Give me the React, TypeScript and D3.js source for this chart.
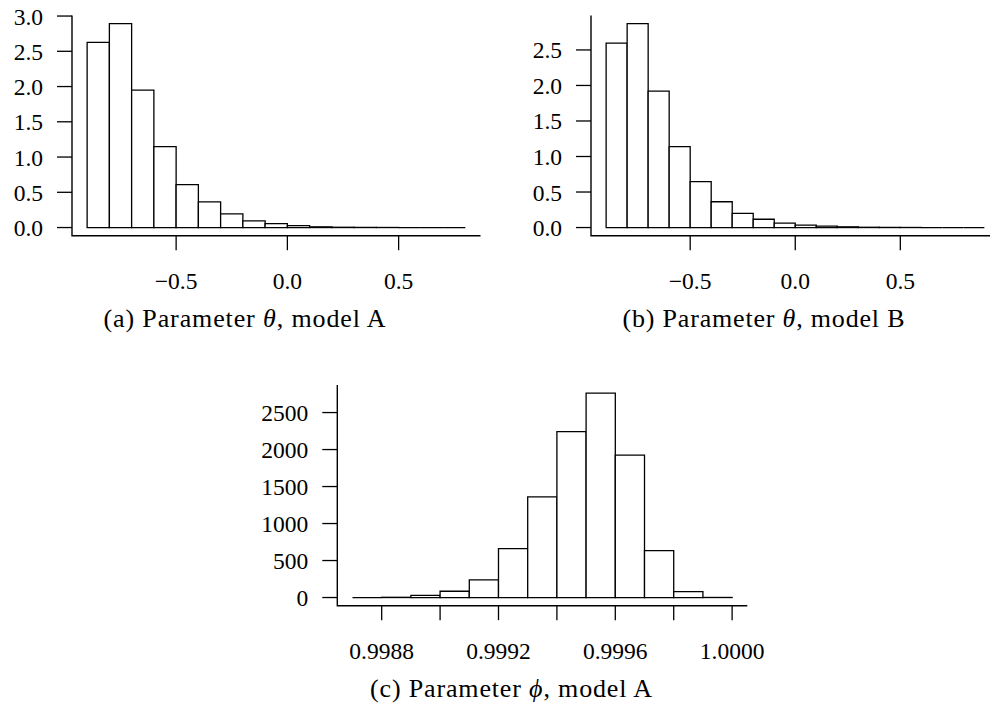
import React from "react";
import * as d3 from "d3";

// ---- Data ----
// Panel (a): Parameter theta, model A  (histogram densities, bin width 0.1)
const edgesA = [-0.9, -0.8, -0.7, -0.6, -0.5, -0.4, -0.3, -0.2, -0.1, 0.0, 0.1, 0.2, 0.3, 0.4, 0.5, 0.6, 0.7, 0.8];
const densityA = [2.627, 2.892, 1.949, 1.148, 0.61, 0.365, 0.195, 0.095, 0.057, 0.028, 0.01, 0.004, 0.002, 0.001, 0, 0, 0];

// Panel (b): Parameter theta, model B
const edgesB = [-0.9, -0.8, -0.7, -0.6, -0.5, -0.4, -0.3, -0.2, -0.1, 0.0, 0.1, 0.2, 0.3, 0.4, 0.5, 0.6, 0.7, 0.8, 0.9];
const densityB = [2.595, 2.87, 1.92, 1.14, 0.645, 0.363, 0.2, 0.117, 0.061, 0.033, 0.019, 0.01, 0.004, 0.002, 0.001, 0, 0, 0];

// Panel (c): Parameter phi, model A  (bin width 0.0001)
const edgesC = [0.9987, 0.9988, 0.9989, 0.999, 0.9991, 0.9992, 0.9993, 0.9994, 0.9995, 0.9996, 0.9997, 0.9998, 0.9999, 1.0];
const densityC = [0, 3, 30, 85, 238, 662, 1361, 2241, 2762, 1926, 635, 80, 1];

// Tick values
const yTicksA = [0, 0.5, 1.0, 1.5, 2.0, 2.5, 3.0];
const yTicksB = [0, 0.5, 1.0, 1.5, 2.0, 2.5];
const yTicksC = [0, 500, 1000, 1500, 2000, 2500];
const xTicksAB = [-0.5, 0.0, 0.5];
const xTicksC = [0.9988, 0.999, 0.9992, 0.9994, 0.9996, 0.9998, 1.0];
const xLabelsC = [0.9988, 0.9992, 0.9996, 1.0];

const FONT = "'Liberation Serif', 'Times New Roman', serif";

type HistProps = {
  edges: number[];
  dens: number[];
  xTicks: number[];
  xLabels: number[];
  yTicks: number[];
  xFmt: (v: number) => string;
  yFmt: (v: number) => string;
  left: number;
  top: number;
  width: number;
  height: number;
  captionX: number;
  letter: string;
  sym: string;
  model: string;
};

function Hist(p: HistProps) {
  const lo = p.edges[0];
  const hi = p.edges[p.edges.length - 1];
  const padX = 0.04 * (hi - lo);
  const M = d3.max(p.dens) as number;
  const x = d3.scaleLinear().domain([lo - padX, hi + padX]).range([p.left, p.left + p.width]);
  const y = d3.scaleLinear().domain([-0.04 * M, 1.04 * M]).range([p.top + p.height, p.top]);
  const bottom = p.top + p.height;
  const right = p.left + p.width;
  const sw = 1.3;
  return (
    <g>
      {p.dens.map((d, i) => {
        const x0 = x(p.edges[i]);
        const x1 = x(p.edges[i + 1]);
        const yt = y(d);
        const y0 = y(0);
        return (
          <path key={i} d={`M${x0},${y0}V${yt}H${x1}V${y0}Z`}
            fill="white" stroke="black" strokeWidth={sw} />
        );
      })}
      <path d={`M${p.left},${p.top}V${bottom}H${right}`} fill="none" stroke="black" strokeWidth={1.4} />
      {p.yTicks.map((t) => (
        <g key={"y" + t}>
          <line x1={p.left - 15} x2={p.left} y1={y(t)} y2={y(t)} stroke="black" strokeWidth={sw} />
          <text x={p.left - 29} y={y(t) + 8.5} textAnchor="end" fontSize={23.5} fontFamily={FONT}>
            {p.yFmt(t)}
          </text>
        </g>
      ))}
      {p.xTicks.map((t) => (
        <line key={"x" + t} x1={x(t)} x2={x(t)} y1={bottom} y2={bottom + 14.5} stroke="black" strokeWidth={sw} />
      ))}
      {p.xLabels.map((t) => (
        <text key={"xl" + t} x={x(t)} y={bottom + 53} textAnchor="middle" fontSize={23.5} fontFamily={FONT}>
          {p.xFmt(t)}
        </text>
      ))}
      <text x={p.captionX} y={bottom + 91} textAnchor="middle" fontSize={26} fontFamily={FONT}
        textLength={282} lengthAdjust="spacing">
        {`(${p.letter}) Parameter `}
        <tspan fontStyle="italic">{p.sym}</tspan>
        {`, model ${p.model}`}
      </text>
    </g>
  );
}

export default function App() {
  const f1 = d3.format(".1f");
  const f4 = d3.format(".4f");
  const fd = d3.format("d");
  return (
    <svg width={990} height={712} style={{ position: "absolute", left: 0, top: 0, background: "white" }}>
      <rect x={0} y={0} width={990} height={712} fill="white" />
      <Hist edges={edgesA} dens={densityA} xTicks={xTicksAB} xLabels={xTicksAB} yTicks={yTicksA}
        xFmt={f1} yFmt={f1} left={72} top={15.5} width={408.5} height={220.2}
        captionX={244.5} letter="a" sym="θ" model="A" />
      <Hist edges={edgesB} dens={densityB} xTicks={xTicksAB} xLabels={xTicksAB} yTicks={yTicksB}
        xFmt={f1} yFmt={f1} left={591} top={15.5} width={408.5} height={220.2}
        captionX={763.5} letter="b" sym="θ" model="B" />
      <Hist edges={edgesC} dens={densityC} xTicks={xTicksC} xLabels={xLabelsC} yTicks={yTicksC}
        xFmt={f4} yFmt={fd} left={337.3} top={385} width={410} height={220.7}
        captionX={511} letter="c" sym="ϕ" model="A" />
    </svg>
  );
}
